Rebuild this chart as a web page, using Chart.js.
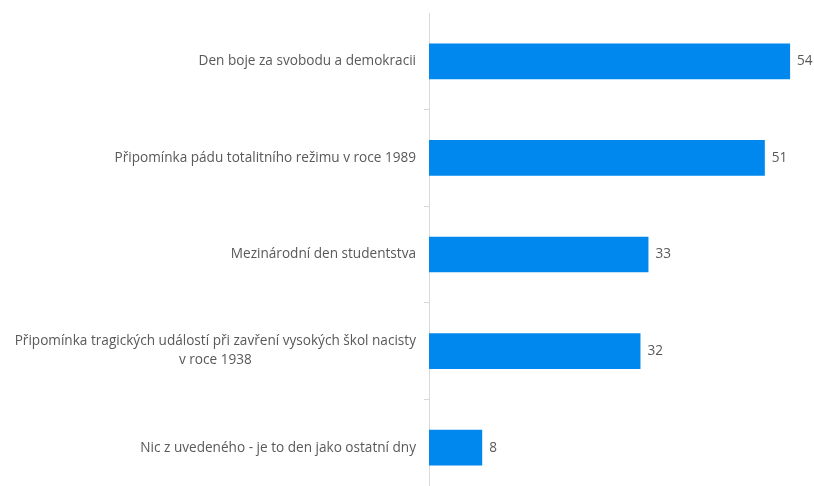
<!DOCTYPE html>
<html>
<head>
<meta charset="utf-8">
<script src="https://cdn.jsdelivr.net/npm/chart.js@4"></script>
<style>
  html, body { margin: 0; padding: 0; background: #fff; overflow: hidden; }
  #wrap { width: 814px; height: 486px; overflow: hidden; }
</style>
</head>
<body>
<div id="wrap"><canvas id="chart" width="814" height="496"></canvas></div>
<script>
// values (bars are a touch off the rounded labels)
const categories = [
  ['Den boje za svobodu a demokracii'],
  ['Připomínka pádu totalitního režimu v roce 1989'],
  ['Mezinárodní den studentstva'],
  ['Připomínka tragických událostí při zavření vysokých škol nacisty', 'v roce 1938'],
  ['Nic z uvedeného - je to den jako ostatní dny']
]
const values = [54.3, 50.5, 33.0, 31.8, 8.0]

const textColor = '#595959'
const fontFamily = '"Open Sans", sans-serif'
const fontSize = 13.6

// draws the category labels (second line centred under the first, like the original)
const categoryLabels = {
  id: 'categoryLabels',
  afterDraw(chart) {
    const ctx = chart.ctx
    const yScale = chart.scales.y
    const right = yScale.right - 13
    ctx.save()
    ctx.font = fontSize + 'px ' + fontFamily
    ctx.fillStyle = textColor
    ctx.textBaseline = 'middle'
    categories.forEach((lines, i) => {
      const cy = yScale.getPixelForValue(i)
      const lh = 19
      const y0 = cy - (lines.length - 1) * lh / 2
      if (lines.length === 1) {
        ctx.textAlign = 'right'
        ctx.fillText(lines[0], right, y0)
      } else {
        const w = Math.max(...lines.map(l => ctx.measureText(l).width))
        ctx.textAlign = 'center'
        lines.forEach((l, j) => ctx.fillText(l, right - w / 2, y0 + j * lh))
      }
    })
    ctx.restore()
  }
}

// value at the end of each bar
const valueLabels = {
  id: 'valueLabels',
  afterDatasetsDraw(chart) {
    const ctx = chart.ctx
    ctx.save()
    ctx.font = fontSize + 'px ' + fontFamily
    ctx.fillStyle = textColor
    ctx.textAlign = 'left'
    ctx.textBaseline = 'middle'
    chart.getDatasetMeta(0).data.forEach((bar, i) => {
      ctx.fillText(Math.round(values[i]), bar.x + 7, bar.y)
    })
    ctx.restore()
  }
}

const data = {
  labels: categories.map(l => l.join(' ')),
  datasets: [{
    data: values,
    backgroundColor: 'rgb(0,136,238)',
    borderWidth: 0,
    barPercentage: 0.37,
    categoryPercentage: 1
  }]
}

const options = {
  indexAxis: 'y',
  responsive: false,
  devicePixelRatio: 1,
  animation: false,
  layout: { padding: { top: 13, right: 12.6, left: 0, bottom: 0 } },
  plugins: {
    legend: { display: false },
    tooltip: { enabled: false }
  },
  scales: {
    x: {
      display: false,
      min: 0,
      max: 56
    },
    y: {
      afterFit(scale) { scale.width = 429 },
      ticks: { display: false },
      grid: {
        drawOnChartArea: false,
        tickLength: 5,
        color: c => c.index === 0 ? 'rgba(0,0,0,0)' : '#d9d9d9'
      },
      border: { color: '#d9d9d9', width: 1 }
    }
  }
}

const ctx = document.getElementById('chart')
const myChart = new Chart(ctx, {
  type: 'bar',
  data: data,
  options: options,
  plugins: [categoryLabels, valueLabels]
})
</script>
</body>
</html>
